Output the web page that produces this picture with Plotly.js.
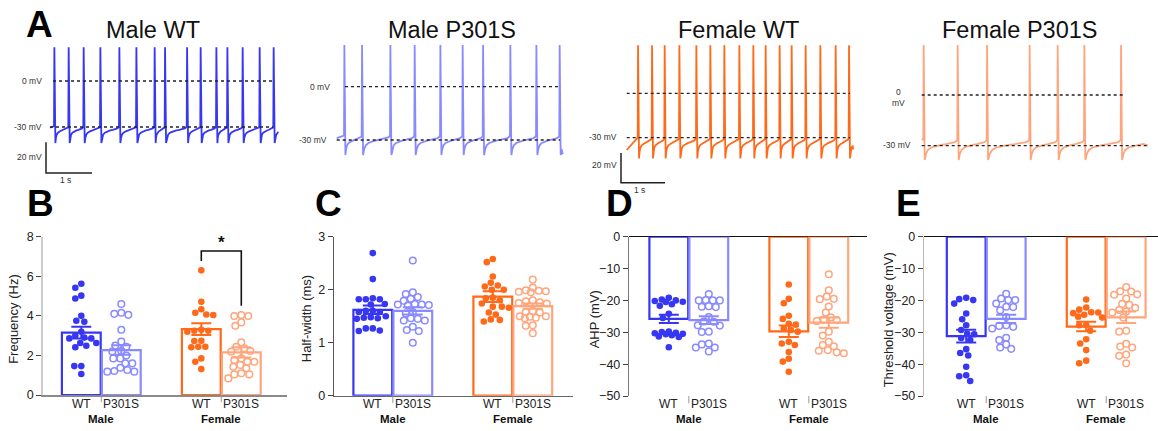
<!DOCTYPE html>
<html><head><meta charset="utf-8">
<script src="https://cdn.plot.ly/plotly-3.0.1.min.js"></script>
<style>html,body{margin:0;padding:0;background:#fff}#chart{width:1158px;height:431px}</style>
</head><body><div id="chart"></div>
<script>
const W=1158,H=431;
// ================= DATA =================
// Panel A: spike times (s)
const spikesMaleWT=[0.087,0.398,0.724,1.087,1.5,1.87,2.267,2.493,2.972,3.267,3.609,3.848,4.18,4.55,4.854];
const spikesMaleP301S=[0.159,0.543,1.159,1.687,2.246,2.730,3.174,3.767,4.333,4.839];
const spikesFemaleWT=[0.25,0.568,0.855,1.189,1.575,1.893,2.211,2.552,2.87,3.15,3.468,3.741,4.059,4.393,4.741,5.045];
const spikesFemaleP301S=[0.035,0.774,1.413,2.339,2.948,3.528,4.326];
// voltage levels (mV): start, pre-spike, peak, AHP trough, end
const levelsMaleWT=[-30.5,-29.5,22,-40.5,-34];
const levelsMaleP301S=[-29,-27.5,23.5,-38.5,-38];
const levelsFemaleWT=[-38.3,-30,32.5,-44,-38];
const levelsFemaleP301S=[-26,-26.5,29.6,-38.5,-30];
const durations=[4.957,4.913,5.143,4.92];
// AHP recovery shape (fraction of ISI, fraction trough->pre-spike)
const ahpFrac=[0,0.04,0.1,0.2,0.35,0.5,0.65,0.8,0.9,0.96,1.0];
const ahpLevel=[0,0.3,0.5,0.62,0.7,0.75,0.79,0.83,0.87,0.92,1.0];
const traceTitles=['Male WT','Male P301S','Female WT','Female P301S'];

// Panels B-E
const genotypes=['WT','P301S','WT','P301S'];
const sexes=['Male','Female'];
const freqMaleWT=[5.62,5.42,4.88,5.02,4.0,3.75,3.70,3.2,2.86,2.63,2.63,2.86,2.41,2.49,1.46,1.46,1.06,2.9,3.0];
const freqMaleP301S=[4.6,4.16,4.1,4.05,3.3,2.7,2.44,2.2,2.22,2.0,1.85,1.85,1.6,1.6,1.26,1.21,1.38,1.18,1.18,2.5];
const freqFemaleWT=[6.3,4.71,4.16,4.07,4.33,4.04,3.25,3.25,3.2,2.73,2.74,2.44,2.44,2.41,1.85,1.68,1.31,3.3];
const freqFemaleP301S=[3.99,3.99,4.04,3.67,3.5,2.66,2.44,2.36,2.19,2.22,1.85,1.77,1.68,1.68,1.52,1.43,1.35,1.1,1.04,1.04,0.84];
const freqMeans=[3.15,2.27,3.33,2.15];
const freqSEM=[0.3,0.24,0.3,0.26];

const hwMaleWT=[2.69,2.2,1.84,1.82,1.82,1.82,1.73,1.72,1.6,1.6,1.58,1.58,1.5,1.48,1.47,1.46,1.45,1.27,1.27,1.23,1.22];
const hwMaleP301S=[2.55,1.95,1.92,1.86,1.83,1.79,1.73,1.72,1.72,1.71,1.7,1.58,1.55,1.46,1.45,1.42,1.42,1.3,1.24,1.22,1.0];
const hwFemaleWT=[2.58,2.52,2.25,2.13,2.08,2.06,2.0,2.0,1.85,1.84,1.8,1.74,1.68,1.68,1.66,1.57,1.53,1.44,1.43,1.4];
const hwFemaleP301S=[2.19,2.04,1.99,1.98,1.97,1.96,1.95,1.8,1.78,1.76,1.75,1.74,1.6,1.58,1.57,1.5,1.5,1.49,1.47,1.46,1.33,1.32,1.18];
const hwMeans=[1.62,1.6,1.87,1.69];
const hwSEM=[0.08,0.07,0.1,0.05];

const ahpMaleWT=[-19.2,-19.7,-20.0,-20.2,-20.4,-20.5,-21.2,-21.7,-24.2,-25.5,-29.8,-29.9,-30.2,-30.3,-30.5,-30.6,-30.9,-31.3,-31.5,-34.7];
const ahpMaleP301S=[-18.0,-19.9,-20.0,-20.0,-20.0,-21.8,-22.0,-22.1,-25.2,-26.6,-26.7,-27.8,-27.9,-29.8,-29.9,-33.5,-33.8,-34.8,-34.8,-36.0];
const ahpFemaleWT=[-15.0,-19.5,-20.9,-24.8,-25.8,-27.3,-27.6,-28.8,-29.3,-29.8,-33.0,-33.5,-34.0,-36.2,-38.3,-39.2,-42.4];
const ahpFemaleP301S=[-11.8,-16.8,-18.8,-19.5,-19.6,-21.9,-23.8,-25.3,-26.0,-26.2,-26.5,-29.8,-31.0,-33.0,-34.0,-34.4,-35.6,-35.8,-36.3,-36.6];
const ahpMeans=[-25.8,-26.2,-29.7,-27.0];
const ahpSEM=[1.3,1.2,1.8,1.6];

const thrMaleWT=[-19.2,-19.6,-19.9,-21.0,-24.1,-25.9,-27.8,-29.3,-30.5,-30.6,-31.8,-32.4,-35.3,-36.5,-37.3,-40.8,-43.5,-43.8,-45.3];
const thrMaleP301S=[-17.9,-19.4,-19.9,-19.9,-21.0,-22.0,-22.1,-23.1,-25.2,-27.8,-28.0,-28.3,-28.8,-31.7,-32.4,-33.8,-34.8,-35.2];
const thrFemaleWT=[-19.7,-22.2,-22.9,-23.7,-23.8,-24.0,-24.5,-25.1,-25.4,-27.7,-27.8,-29.5,-32.2,-33.5,-35.6,-38.9,-39.7];
const thrFemaleP301S=[-15.8,-17.1,-17.2,-18.1,-18.2,-19.4,-21.1,-21.4,-22.3,-23.0,-23.5,-23.8,-25.4,-29.5,-29.8,-33.6,-34.5,-34.8,-37.0,-37.4,-39.7];
const thrMeans=[-31.2,-25.8,-28.2,-25.3];
const thrSEM=[2.0,1.3,1.5,1.8];

// ================= STYLE / LAYOUT =================
const colors=['#3737f3','#8a8aff','#ff6a1a','#ffa57c'];
const FONT='Liberation Sans, Arial, sans-serif';
const fx=p=>p/W, fy=p=>1-p/H;

const tracePanels=[
 {spk:spikesMaleWT,lv:levelsMaleWT,dur:durations[0],start:50,pps:46,zero:81,m30:127,d0:40,d1:284,color:colors[0],titleX:153,
  lbl0:{x:44,y:81,t:'0 mV'},lbl30:{x:44,y:127,t:'-30 mV'},bar:{x:46,bot:173,lblY:157,sLblY:180}},
 {spk:spikesMaleP301S,lv:levelsMaleP301S,dur:durations[1],start:336.7,pps:46,zero:86.7,m30:140,d0:300,d1:570,color:colors[1],titleX:452,
  lbl0:{x:332,y:87,t:'0 mV'},lbl30:{x:329,y:140,t:'-30 mV'}},
 {spk:spikesFemaleWT,lv:levelsFemaleWT,dur:durations[2],start:626.7,pps:44,zero:93.3,m30:137.7,d0:615,d1:862,color:colors[2],titleX:738,
  lbl0:{x:603,y:95,t:'0<br>mV',c:true},lbl30:{x:619,y:137,t:'-30 mV'},bar:{x:621,bot:182.7,lblY:165,sLblY:190}},
 {spk:spikesFemaleP301S,lv:levelsFemaleP301S,dur:durations[3],start:921.7,pps:46,zero:95,m30:145.7,d0:880,d1:1155,color:colors[3],titleX:1019,
  lbl0:{x:898,y:98,t:'0<br>mV',c:true},lbl30:{x:913,y:145,t:'-30 mV'}}
];
const dotEnds=[[273,273],[560,560],[850,850],[1123,1148]];
const dotStarts=[[53,50],[345,336.7],[626.7,626.7],[921.7,921.7]];
const TR_TOP=38, TR_BOT=192;

const barPanels=[
 {x0:42.7,x1:286.7,c0:81.3,top:236.7,bot:395,range:[0,8],dtick:2,yline:'#cccccc',xline:'#8a8a8a',neg:false,
  title:'Frequency (Hz)',titleX:14,letter:'B',letterX:40,data:[freqMaleWT,freqMaleP301S,freqFemaleWT,freqFemaleP301S],means:freqMeans,sems:freqSEM},
 {x0:334.3,x1:573.3,c0:372.8,top:236.7,bot:395.7,range:[0,3],dtick:1,yline:'#555555',xline:'#666666',neg:false,
  title:'Half-width (ms)',titleX:306,letter:'C',letterX:328,data:[hwMaleWT,hwMaleP301S,hwFemaleWT,hwFemaleP301S],means:hwMeans,sems:hwSEM},
 {x0:629.3,x1:866.7,c0:668.8,top:236.7,bot:396,range:[-50,0],dtick:10,yline:'#777777',xline:null,neg:true,
  title:'AHP (mV)',titleX:594,letter:'D',letterX:619,data:[ahpMaleWT,ahpMaleP301S,ahpFemaleWT,ahpFemaleP301S],means:ahpMeans,sems:ahpSEM},
 {x0:924.3,x1:1158,c0:966.2,top:236.7,bot:396,range:[-50,0],dtick:10,yline:'#bbbbbb',xline:null,neg:true,
  title:'Threshold voltage (mV)',titleX:888,letter:'E',letterX:908,data:[thrMaleWT,thrMaleP301S,thrFemaleWT,thrFemaleP301S],means:thrMeans,sems:thrSEM}
];
const barPos=[0,1,3,4];
const BARPX=40;

// ================= BUILD =================
const traces=[], shapes=[], annotations=[], layout={};

function buildTrace(spk,lv,dur){
  const [v0,thr,peak,trough,vEnd]=lv;
  const t=[0],v=[v0];
  const isis=[];for(let i=1;i<spk.length;i++)isis.push(spk[i]-spk[i-1]);
  const meanIsi=isis.reduce((a,b)=>a+b,0)/isis.length;
  for(let i=0;i<spk.length;i++){
    const ts=spk[i];
    t.push(ts,ts+0.008,ts+0.03);v.push(thr,peak,trough);
    const a=ts+0.03;
    if(i+1<spk.length){
      const span=spk[i+1]-a;
      for(let k=1;k<ahpFrac.length-1;k++){t.push(a+span*ahpFrac[k]);v.push(trough+(thr-trough)*ahpLevel[k]);}
    }else{
      for(let k=1;k<ahpFrac.length-1;k++){const tt=a+meanIsi*ahpFrac[k];if(tt>=dur)break;t.push(tt);v.push(trough+(thr-trough)*ahpLevel[k]);}
      t.push(dur);v.push(vEnd);
    }
  }
  return {t,v};
}

tracePanels.forEach((p,i)=>{
  const n=5+i, xa='x'+n, ya='y'+n;
  const ppm=(p.m30-p.zero)/30;
  const tAt=px=>(px-p.start)/p.pps;
  const vAt=py=>-(py-p.zero)/ppm;
  layout['xaxis'+n]={domain:[fx(p.d0),fx(p.d1)],range:[tAt(p.d0),tAt(p.d1)],visible:false,anchor:ya,fixedrange:true};
  layout['yaxis'+n]={domain:[fy(TR_BOT),fy(TR_TOP)],range:[vAt(TR_BOT),vAt(TR_TOP)],visible:false,anchor:xa,fixedrange:true};
  const tr=buildTrace(p.spk,p.lv,p.dur);
  traces.push({type:'scatter',mode:'lines',x:tr.t,y:tr.v,xaxis:xa,yaxis:ya,line:{color:p.color,width:1.8},hoverinfo:'skip',showlegend:false});
  [[0,0],[-30,1]].forEach(([mv,j])=>{
    shapes.push({type:'line',xref:xa,yref:ya,x0:tAt(dotStarts[i][j]),x1:tAt(dotEnds[i][j]),y0:mv,y1:mv,line:{color:'#222',width:1.3,dash:'dot'}});
  });
  const L0=p.lbl0,L3=p.lbl30;
  annotations.push({xref:xa,yref:ya,x:tAt(L0.x),y:vAt(L0.y),text:L0.t,showarrow:false,xanchor:L0.c?'center':'right',yanchor:'middle',font:{family:FONT,size:8.5,color:'#333'}});
  annotations.push({xref:xa,yref:ya,x:tAt(L3.x),y:vAt(L3.y),text:L3.t,showarrow:false,xanchor:'right',yanchor:'middle',font:{family:FONT,size:8.5,color:'#333'}});
  if(p.bar){
    const bx=tAt(p.bar.x), by=vAt(p.bar.bot);
    shapes.push({type:'path',xref:xa,yref:ya,path:`M ${bx} ${by+20} L ${bx} ${by} L ${bx+1} ${by}`,line:{color:'#222',width:1.5}});
    annotations.push({xref:xa,yref:ya,x:tAt(p.bar.x-2),y:vAt(p.bar.lblY),text:'20 mV',showarrow:false,xanchor:'right',yanchor:'middle',font:{family:FONT,size:8.5,color:'#333'}});
    annotations.push({xref:xa,yref:'paper',x:bx+0.42,y:fy(p.bar.sLblY),text:'1 s',showarrow:false,xanchor:'center',yanchor:'middle',font:{family:FONT,size:8.5,color:'#333'}});
  }
  annotations.push({xref:'paper',yref:'paper',x:fx(p.titleX),y:fy(30),text:traceTitles[i],showarrow:false,xanchor:'center',yanchor:'middle',font:{family:FONT,size:23.5,color:'#111'}});
});
annotations.push({xref:'paper',yref:'paper',x:fx(39),y:fy(25),text:'<b>A</b>',showarrow:false,xanchor:'center',yanchor:'middle',font:{family:FONT,size:37,color:'#000'}});

// beeswarm layout (pixel space), limited to the bar width
function swarm(vals,yppu,xppu){
  const idx=vals.map((v,i)=>i).sort((a,b)=>vals[b]-vals[a]);
  const placed=[],off=new Array(vals.length).fill(0);
  const D=6.6,MAXO=16;
  for(const i of idx){
    const pyv=vals[i]*yppu;let best=null,bestScore=-1,fallback=0;
    for(let k=0;k<=MAXO;k++){
      const cands=k===0?[0]:[-k,k];
      for(const c of cands){
        const md=placed.length?Math.min(...placed.map(q=>Math.hypot(q[0]-c,q[1]-pyv))):99;
        if(md>=D&&best===null){best=c;}
        if(md>bestScore){bestScore=md;fallback=c;}
      }
      if(best!==null)break;
    }
    if(best===null)best=fallback;
    placed.push([best,pyv]);off[i]=best/xppu;
  }
  return off;
}

barPanels.forEach((p,i)=>{
  const n=i+1, xa='x'+(n===1?'':n), ya='y'+(n===1?'':n);
  const xr=[(p.x0-p.c0)/BARPX,(p.x1-p.c0)/BARPX];
  const yppu=(p.bot-p.top)/(p.range[1]-p.range[0]);
  layout['xaxis'+(n===1?'':n)]={domain:[fx(p.x0),fx(p.x1)],range:xr,anchor:ya,fixedrange:true,
    showticklabels:false,ticks:'',showgrid:false,zeroline:false,
    showline:!!p.xline,linecolor:p.xline||'#000',linewidth:1.5};
  layout['yaxis'+(n===1?'':n)]={domain:[fy(p.bot),fy(p.top)],range:p.range,anchor:xa,fixedrange:true,
    dtick:p.dtick,tick0:0,ticks:'outside',ticklen:5,tickwidth:1,tickcolor:'#444',
    showline:true,linecolor:p.yline,linewidth:1.5,showgrid:false,
    zeroline:p.neg,zerolinecolor:'#111',zerolinewidth:1.5,
    tickfont:{family:FONT,size:12.5,color:'#222'}};
  p.data.forEach((vals,g)=>{
    traces.push({type:'bar',x:[barPos[g]],y:[p.means[g]],width:0.97,xaxis:xa,yaxis:ya,
      marker:{color:'rgba(255,255,255,0)',line:{color:colors[g],width:2.2}},hoverinfo:'skip',showlegend:false});
  });
  p.data.forEach((vals,g)=>{
    const off=swarm(vals,yppu,BARPX);
    const open=(g%2===1);
    traces.push({type:'scatter',mode:'markers',x:vals.map((v,k)=>barPos[g]+off[k]),y:vals,xaxis:xa,yaxis:ya,cliponaxis:false,
      marker:{symbol:open?'circle-open':'circle',size:6.6,color:colors[g],line:{width:open?1.5:0,color:colors[g]}},hoverinfo:'skip',showlegend:false});
  });
  p.data.forEach((vals,g)=>{
    traces.push({type:'scatter',mode:'markers',x:[barPos[g]],y:[p.means[g]],xaxis:xa,yaxis:ya,
      marker:{size:1,color:'rgba(0,0,0,0)'},
      error_y:{type:'data',array:[p.sems[g]],visible:true,color:colors[g],thickness:2,width:10},hoverinfo:'skip',showlegend:false});
  });
  // category labels (genotype) under each bar
  barPos.forEach((bp,g)=>{
    annotations.push({xref:xa,yref:'paper',x:bp,y:fy(403.5),text:genotypes[g],showarrow:false,xanchor:'center',yanchor:'middle',font:{family:FONT,size:12,color:'#222'}});
  });
  [0.5,3.5].forEach((sx,k)=>{
    shapes.push({type:'line',xref:xa,yref:ya+' domain',x0:sx,x1:sx,y0:0,y1:-0.045,line:{color:'#999',width:1}});
    annotations.push({xref:xa,yref:'paper',x:sx,y:fy(419),text:'<b>'+sexes[k]+'</b>',showarrow:false,xanchor:'center',yanchor:'middle',font:{family:FONT,size:11.5,color:'#111'}});
  });
  annotations.push({xref:'paper',yref:'paper',x:fx(p.titleX),y:fy((p.top+p.bot)/2+3),text:p.title,textangle:-90,showarrow:false,xanchor:'center',yanchor:'middle',font:{family:FONT,size:13,color:'#222'}});
  annotations.push({xref:'paper',yref:'paper',x:fx(p.letterX),y:fy(204),text:'<b>'+p.letter+'</b>',showarrow:false,xanchor:'center',yanchor:'middle',font:{family:FONT,size:37,color:'#000'}});
});

// significance bracket in B (Female WT vs Female P301S)
shapes.push({type:'path',xref:'x',yref:'y',path:'M 3 6.77 L 3 7.28 L 4 7.28 L 4 4.51',line:{color:'#111',width:1.6}});
annotations.push({xref:'x',yref:'y',x:3.5,y:7.72,text:'<b>*</b>',showarrow:false,xanchor:'center',yanchor:'middle',font:{family:FONT,size:17,color:'#111'}});

Object.assign(layout,{width:W,height:H,margin:{l:0,r:0,t:0,b:0},paper_bgcolor:'#fff',plot_bgcolor:'rgba(0,0,0,0)',
  showlegend:false,barmode:'overlay',shapes,annotations,font:{family:FONT}});
Plotly.newPlot('chart',traces,layout,{staticPlot:true,displayModeBar:false});
</script></body></html>
